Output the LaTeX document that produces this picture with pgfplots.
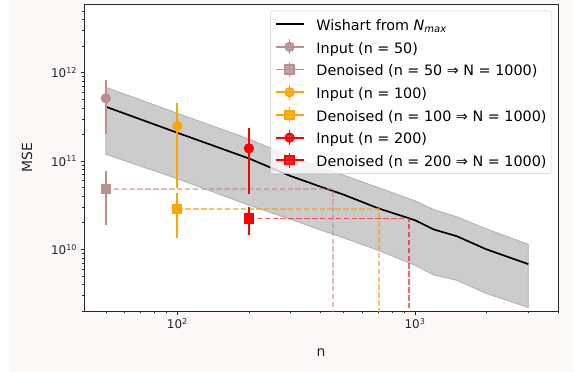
\documentclass[border=0pt]{standalone}
\usepackage{pgfplots}
\pgfplotsset{compat=1.18}
\usepackage{fontspec}
\setmainfont{DejaVu Sans}
\definecolor{bgpink}{RGB}{252,248,247}
\definecolor{rosy}{RGB}{188,143,143}
\definecolor{mplorange}{RGB}{255,165,0}
\definecolor{mplred}{RGB}{255,0,0}
\definecolor{bandfill}{RGB}{204,204,204}
\definecolor{bandedge}{RGB}{175,175,175}
\pgfplotsset{
  errleg/.style={legend image code/.code={
      \draw[##1, mark=none] (0bp,0bp) -- (28bp,0bp);
      \draw[##1, mark=none] (14bp,-7.5bp) -- (14bp,7.5bp);
      \draw[##1] plot coordinates {(14bp,0bp)};}},
  lineleg/.style={legend image code/.code={
      \draw[##1] (0bp,0bp) -- (28bp,0bp);}},
  ebar/.style={line width=1.8bp, mark size=4.2bp, mark options={solid},
      error bars/.cd, y dir=both, y explicit, error mark=none,
      error bar style={line width=1.8bp}},
}
\begin{document}
\begin{tikzpicture}
\fill[bgpink] (10bp,0bp) rectangle (573bp,372bp);
\path (0bp,0bp) rectangle (573bp,372bp);
\begin{axis}[
  at={(84bp,60.5bp)}, anchor=south west,
  scale only axis, width=474.3bp, height=307.5bp,
  xmode=log, ymode=log,
  xmin=40.47, xmax=4012, ymin=1.98e9, ymax=6.0e12,
  axis background/.style={fill=white},
  axis line style={black!85, line width=0.8bp},
  tick align=outside, tick pos=left,
  major tick length=3.5bp, minor tick length=2bp,
  every tick/.style={black!85, line width=0.8bp},
  every minor tick/.style={black!85, line width=0.6bp},
  xtick={100,1000}, xticklabels={10\textsuperscript{2},10\textsuperscript{3}},
  ytick={1e10,1e11,1e12}, yticklabels={10\textsuperscript{10},10\textsuperscript{11},10\textsuperscript{12}},
  minor xtick={50,60,70,80,90,200,300,400,500,600,700,800,900,2000,3000,4000},
  minor ytick={2e9,3e9,4e9,5e9,6e9,7e9,8e9,9e9,2e10,3e10,4e10,5e10,6e10,7e10,8e10,9e10,2e11,3e11,4e11,5e11,6e11,7e11,8e11,9e11,2e12,3e12,4e12,5e12},
  ticklabel style={font=\fontsize{12}{14}\selectfont, text=black!85},
  xlabel={n}, ylabel={MSE},
  label style={font=\fontsize{14}{16}\selectfont, text=black!85},
  xlabel style={at={(axis description cs:0.5,-0.135)}, anchor=center},
  ylabel style={at={(axis description cs:-0.1203,0.5)}, anchor=center},
  legend cell align=left,
  legend style={at={(1,1)}, anchor=north east, xshift=-6.6bp, yshift=-6.7bp,
    draw=black!20, rounded corners=2bp, fill=white, fill opacity=0.8, text opacity=1,
    font=\fontsize{14.4}{17}\selectfont, row sep=4.2bp, column sep=11bp,
    inner xsep=4bp, inner ysep=4bp,
    nodes={inner sep=1bp, text height=14.5bp, text depth=2bp}},
]
% shaded band
\addplot[draw=bandedge, fill=bandfill, line width=0.8bp, forget plot] coordinates {
 (50,6.84e11) (100,3.47e11) (200,1.78e11) (300,1.12e11) (400,8.51e10) (500,6.92e10)
 (700,5.01e10) (1000,3.55e10) (1200,2.82e10) (1500,2.34e10) (2000,1.70e10) (3000,1.14e10)
 (3000,2.20e9) (2000,3.16e9) (1500,4.47e9) (1200,5.13e9) (1000,6.61e9) (700,9.77e9)
 (500,1.35e10) (400,1.66e10) (300,2.19e10) (200,3.16e10) (100,6.31e10) (50,1.19e11)
} -- cycle;
% Wishart line
\addplot[black, line width=1.7bp, mark=none, lineleg] coordinates {
 (50,4.12e11) (100,2.09e11) (200,1.07e11) (300,6.76e10) (400,5.13e10) (500,4.17e10)
 (700,2.92e10) (1000,2.14e10) (1200,1.68e10) (1500,1.41e10) (2000,1.0e10) (3000,6.81e9)
};
\addlegendentry{Wishart from \textit{N}\textsubscript{\textit{max}}}
% dashed guides
\addplot[rosy, opacity=0.55, line width=1.7bp, dash pattern=on 5.5bp off 2.4bp, forget plot]
  coordinates {(50,4.79e10) (452,4.79e10) (452,1e9)};
\addplot[mplorange, opacity=0.65, line width=1.7bp, dash pattern=on 5.5bp off 2.4bp, forget plot]
  coordinates {(100,2.84e10) (704,2.84e10) (704,1e9)};
\addplot[mplred, opacity=0.6, line width=1.7bp, dash pattern=on 5.5bp off 2.4bp, forget plot]
  coordinates {(200,2.24e10) (946,2.24e10) (946,1e9)};
% points with error bars
\addplot[rosy, mark=*, errleg, ebar] coordinates {(50,5.13e11) +- (0,3.1e11)};
\addlegendentry{Input (n = 50)}
\addplot[rosy, mark=square*, errleg, ebar] coordinates {(50,4.79e10) +- (0,2.9e10)};
\addlegendentry{Denoised (n = 50 ⇒ N = 1000)}
\addplot[mplorange, mark=*, errleg, ebar] coordinates {(100,2.49e11) +- (0,2.0e11)};
\addlegendentry{Input (n = 100)}
\addplot[mplorange, mark=square*, errleg, ebar] coordinates {(100,2.84e10) +- (0,1.5e10)};
\addlegendentry{Denoised (n = 100 ⇒ N = 1000)}
\addplot[mplred, mark=*, errleg, ebar] coordinates {(200,1.39e11) +- (0,9.7e10)};
\addlegendentry{Input (n = 200)}
\addplot[mplred, mark=square*, errleg, ebar] coordinates {(200,2.24e10) +- (0,8e9)};
\addlegendentry{Denoised (n = 200 ⇒ N = 1000)}
\end{axis}
\end{tikzpicture}
\end{document}
